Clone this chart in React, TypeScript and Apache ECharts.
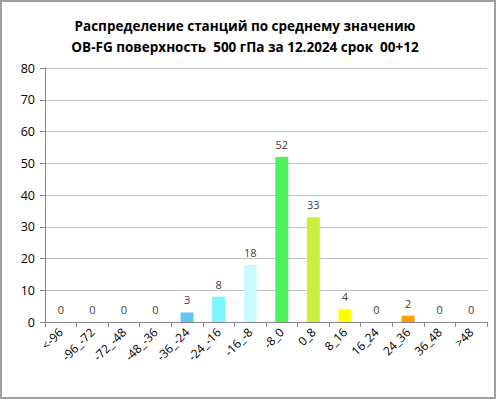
import React, { useEffect, useRef } from "react";
import * as echarts from "echarts";

const titleLines = [
  "Распределение станций по среднему значению",
  "OB-FG поверхность  500 гПа за 12.2024 срок  00+12",
];
const categories = [
  "<-96", "-96_-72", "-72_-48", "-48_-36", "-36_-24", "-24_-16", "-16_-8", "-8_0",
  "0_8", "8_16", "16_24", "24_36", "36_48", ">48",
];
const counts = [0, 0, 0, 0, 3, 8, 18, 52, 33, 4, 0, 2, 0, 0];
const barColors = [
  "#3366cc", "#3366ff", "#3399ff", "#33ccff", "#63c6f0", "#7cf6fa", "#c8fbfc", "#4df25a",
  "#c8f03c", "#ffff00", "#ffc800", "#ffa000", "#ff6400", "#ff0000",
];
const yTicks = { min: 0, max: 80, interval: 10 };

export default function App() {
  const ref = useRef<HTMLDivElement>(null);
  useEffect(() => {
    if (!ref.current) return;
    const chart = echarts.init(ref.current, null, { renderer: "svg" });
    const font = "'Open Sans', 'Noto Sans', sans-serif";
    chart.setOption({
      animation: false,
      backgroundColor: "#ffffff",
      title: {
        text: titleLines.join("\n"),
        left: 238,
        textAlign: "center",
        top: 8,
        textStyle: {
          fontFamily: font,
          fontSize: 13.5,
          fontWeight: "bold",
          color: "#000000",
          lineHeight: 21,
        },
      },
      grid: { left: 43, right: 7, top: 66, bottom: 75, containLabel: false },
      xAxis: {
        type: "category",
        data: categories,
        axisLine: { lineStyle: { color: "#868686" } },
        axisTick: { show: true, alignWithLabel: false, length: 5, lineStyle: { color: "#868686" } },
        axisLabel: {
          rotate: 45,
          interval: 0,
          fontFamily: font,
          fontSize: 12,
          color: "#000000",
          margin: 8,
        },
      },
      yAxis: {
        type: "value",
        min: yTicks.min,
        max: yTicks.max,
        interval: yTicks.interval,
        axisLine: { show: true, lineStyle: { color: "#868686" } },
        axisTick: { show: true, length: 5, lineStyle: { color: "#868686" } },
        splitLine: { lineStyle: { color: "#c0c0c0", width: 1 } },
        axisLabel: { fontFamily: font, fontSize: 12.5, color: "#000000", margin: 10 },
      },
      series: [
        {
          type: "bar",
          data: counts.map((v, i) => ({ value: v, itemStyle: { color: barColors[i] } })),
          barWidth: 13,
          label: {
            show: true,
            position: "top",
            distance: 7,
            fontFamily: font,
            fontSize: 11,
            color: "#404040",
          },
        },
      ],
    });
    return () => chart.dispose();
  }, []);
  return (
    <div
      style={{
        position: "absolute",
        left: 0,
        top: 0,
        width: 496,
        height: 399,
        boxSizing: "border-box",
        border: "2px solid #a0a0a0",
        background: "#fff",
      }}
    >
      <div ref={ref} style={{ width: 492, height: 395 }} />
    </div>
  );
}
